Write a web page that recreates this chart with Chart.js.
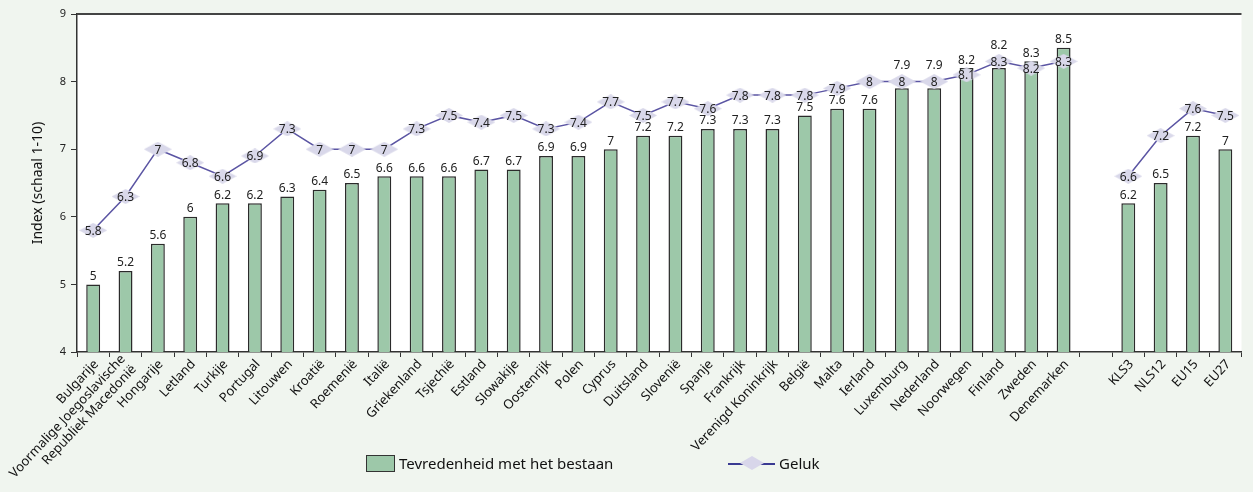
<!DOCTYPE html>
<html lang="nl">
<head>
    <meta charset="UTF-8">
    <title>Tevredenheid en geluk</title>
    <style>
        body {
            margin: 0;
            padding: 0;
            background: #f0f5ef;
            font-family: "Noto Sans", Arial, sans-serif;
        }

        .wrap {
            position: relative;
            width: 1253px;
            height: 492px;
        }

        .legend-item {
            position: absolute;
            top: 453px;
            height: 20px;
            font-size: 15px;
            line-height: 20px;
            color: #111;
        }

        .box {
            position: absolute;
            top: 2px;
            width: 27px;
            height: 15px;
            background: #9dc8a9;
            border: 1.5px solid #333;
        }

        .dash {
            position: absolute;
            top: 10px;
            width: 47px;
            height: 2px;
            background: #3a3a92;
        }

        .diamond {
            position: absolute;
            top: 3px;
            left: 12px;
            width: 24px;
            height: 14px;
            background: #d8d6ea;
            clip-path: polygon(50% 0, 100% 50%, 50% 100%, 0 50%);
        }
    </style>
    <script src="https://cdn.jsdelivr.net/npm/chart.js"></script>
</head>
<body>

<div class="wrap">
    <canvas id="chart"></canvas>
    <div class="legend-item" style="left: 366px;">
        <span class="box"></span>
        <span style="margin-left: 33px;">Tevredenheid met het bestaan</span>
    </div>
    <div class="legend-item" style="left: 728px;">
        <span class="dash"></span>
        <span class="diamond"></span>
        <span style="margin-left: 51px;">Geluk</span>
    </div>
</div>

<script>
    // categorieen (lege plek tussen landen en groepen)
    const labels = [
        'Bulgarije', ['Voormalige Joegoslavische', 'Republiek Macedonië'], 'Hongarije', 'Letland',
        'Turkije', 'Portugal', 'Litouwen', 'Kroatië', 'Roemenië', 'Italië', 'Griekenland',
        'Tsjechië', 'Estland', 'Slowakije', 'Oostenrijk', 'Polen', 'Cyprus', 'Duitsland',
        'Slovenië', 'Spanje', 'Frankrijk', 'Verenigd Koninkrijk', 'België', 'Malta', 'Ierland',
        'Luxemburg', 'Nederland', 'Noorwegen', 'Finland', 'Zweden', 'Denemarken',
        '', 'KLS3', 'NLS12', 'EU15', 'EU27'
    ];

    const tevredenheid = [
        5, 5.2, 5.6, 6, 6.2, 6.2, 6.3, 6.4, 6.5, 6.6, 6.6,
        6.6, 6.7, 6.7, 6.9, 6.9, 7, 7.2, 7.2, 7.3, 7.3,
        7.3, 7.5, 7.6, 7.6, 7.9, 7.9, 8.2, 8.2, 8.3, 8.5,
        null, 6.2, 6.5, 7.2, 7
    ];

    const geluk = [
        5.8, 6.3, 7, 6.8, 6.6, 6.9, 7.3, 7, 7, 7, 7.3,
        7.5, 7.4, 7.5, 7.3, 7.4, 7.7, 7.5, 7.7, 7.6, 7.8,
        7.8, 7.8, 7.9, 8, 8, 8, 8.1, 8.3, 8.2, 8.3,
        null, 6.6, 7.2, 7.6, 7.5
    ];

    const yTicks = [4, 5, 6, 7, 8, 9];

    // platte ruit als puntstijl
    function makeDiamond(w, h, color) {
        const c = document.createElement('canvas');
        c.width = w;
        c.height = h;
        const g = c.getContext('2d');
        g.fillStyle = color;
        g.beginPath();
        g.moveTo(w / 2, 0);
        g.lineTo(w, h / 2);
        g.lineTo(w / 2, h);
        g.lineTo(0, h / 2);
        g.closePath();
        g.fill();
        return c;
    }

    const fontFamily = '"Noto Sans", Arial, sans-serif';

    // witte plotachtergrond + bovenrand
    const plotArea = {
        id: 'plotArea',
        beforeDraw(chart) {
            const { ctx, chartArea: a } = chart;
            ctx.save();
            ctx.fillStyle = '#ffffff';
            ctx.fillRect(a.left, a.top, a.right - a.left, a.bottom - a.top);
            ctx.restore();
        },
        afterDraw(chart) {
            const { ctx, chartArea: a } = chart;
            ctx.save();
            ctx.strokeStyle = '#444';
            ctx.lineWidth = 2;
            ctx.beginPath();
            ctx.moveTo(a.left, a.top);
            ctx.lineTo(a.right, a.top);
            ctx.stroke();
            ctx.restore();
        }
    };

    // schuine categorielabels, zelf getekend op de posities van de x-schaal
    const xLabels = {
        id: 'xLabels',
        afterDraw(chart) {
            const ctx = chart.ctx;
            const scale = chart.scales.x;
            const lineH = 15;
            ctx.save();
            ctx.font = '13px ' + fontFamily;
            ctx.fillStyle = '#111';
            ctx.textAlign = 'right';
            ctx.textBaseline = 'middle';
            labels.forEach((lab, i) => {
                const lines = Array.isArray(lab) ? lab : [lab];
                const x = scale.getPixelForTick(i);
                ctx.save();
                ctx.translate(x + 3, scale.top + 10);
                ctx.rotate(-47 * Math.PI / 180);
                lines.forEach((txt, k) => {
                    ctx.fillText(txt, 0, (k - (lines.length - 1) / 2) * lineH);
                });
                ctx.restore();
            });
            ctx.restore();
        }
    };

    // waardes boven staven en op de ruiten
    const valueLabels = {
        id: 'valueLabels',
        afterDatasetsDraw(chart) {
            const ctx = chart.ctx;
            const lineMeta = chart.getDatasetMeta(0);
            const barMeta = chart.getDatasetMeta(1);
            ctx.save();
            ctx.font = '12px ' + fontFamily;
            ctx.fillStyle = '#222';
            ctx.textAlign = 'center';
            ctx.textBaseline = 'middle';

            barMeta.data.forEach((bar, i) => {
                if (tevredenheid[i] === null) return;
                let y = bar.y - 8;
                const pt = lineMeta.data[i];
                if (geluk[i] !== null && pt.y < bar.y && bar.y - pt.y < 14) {
                    y = pt.y - 16;
                }
                ctx.fillText(String(tevredenheid[i]), bar.x, y);
            });

            lineMeta.data.forEach((pt, i) => {
                if (geluk[i] === null) return;
                ctx.fillText(String(geluk[i]), pt.x, pt.y + 1);
            });
            ctx.restore();
        }
    };

    const ctx = document.getElementById('chart').getContext('2d');
    new Chart(ctx, {
        type: 'bar',
        data: {
            labels: labels,
            datasets: [{
                type: 'line',
                label: 'Geluk',
                data: geluk,
                borderColor: '#5b55a3',
                borderWidth: 1.5,
                pointStyle: makeDiamond(28, 15, '#d9d8ea'),
                pointRadius: 10,
                pointHoverRadius: 10,
                spanGaps: false,
                tension: 0,
                order: 0
            }, {
                label: 'Tevredenheid met het bestaan',
                data: tevredenheid,
                backgroundColor: '#9dc8a9',
                borderColor: '#2b2b2b',
                borderWidth: 1.5,
                categoryPercentage: 1,
                barPercentage: 0.43,
                order: 1
            }]
        },
        options: {
            responsive: true,
            maintainAspectRatio: false,
            animation: false,
            layout: { padding: { top: 14, right: 0, left: 0, bottom: 0 } },
            plugins: {
                legend: { display: false },
                tooltip: { enabled: false }
            },
            scales: {
                x: {
                    offset: true,
                    grid: {
                        offset: true,
                        drawOnChartArea: false,
                        drawTicks: true,
                        tickLength: 5,
                        color: '#333'
                    },
                    border: { color: '#333', width: 1.5 },
                    ticks: { display: false },
                    afterFit(scale) {
                        scale.height = 140;
                        scale.paddingLeft = 0;
                        scale.paddingRight = 0;
                    }
                },
                y: {
                    min: 4,
                    max: 9,
                    afterBuildTicks(scale) {
                        scale.ticks = yTicks.map(v => ({ value: v }));
                    },
                    grid: {
                        drawOnChartArea: false,
                        drawTicks: true,
                        tickLength: 6,
                        color: '#333'
                    },
                    border: { color: '#333', width: 1.5 },
                    ticks: {
                        padding: 5,
                        color: '#222',
                        font: { size: 11, family: fontFamily }
                    },
                    title: {
                        display: true,
                        text: 'Index (schaal 1-10)',
                        color: '#111',
                        font: { size: 14, family: fontFamily },
                        padding: { top: 30, bottom: 0 }
                    },
                    afterFit(scale) {
                        scale.width = 77;
                    }
                }
            }
        },
        plugins: [plotArea, xLabels, valueLabels]
    });
</script>

</body>
</html>
